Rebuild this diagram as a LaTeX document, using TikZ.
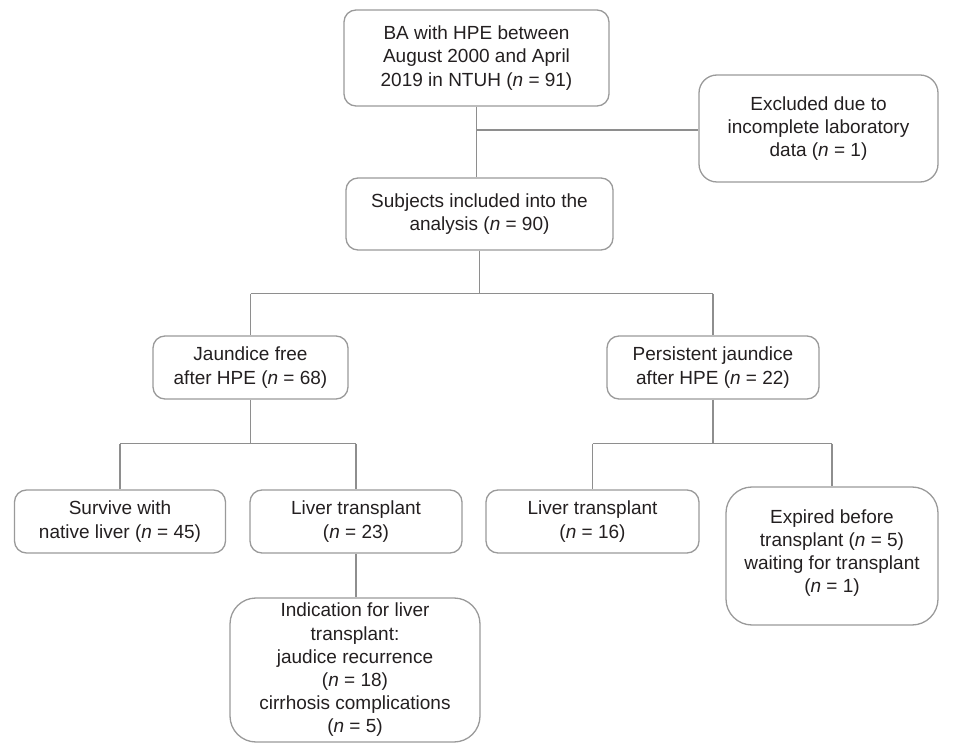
\documentclass[tikz,border=0pt]{standalone}
\usepackage{fontspec}
\setmainfont{Liberation Sans}
\definecolor{linegray}{HTML}{8E8E8E}
\definecolor{boxgray}{HTML}{9A9A9A}
\definecolor{txt}{HTML}{231F20}
\begin{document}
\begin{tikzpicture}[x=1pt,y=-1pt,
  txtstyle/.style={inner sep=0pt, align=center, text=txt, font=\fontsize{19}{23.2}\selectfont},
  box/.style={txtstyle, draw=boxgray, line width=1.3pt, rounded corners=12pt},
  bigbox/.style={box, rounded corners=26pt},
  conn/.style={draw=linegray, line width=1.3pt}]
\useasboundingbox (0,0) rectangle (962,743);

\node[box, minimum width=265pt, minimum height=96pt] (top) at (476.5,58)
  {BA with HPE between\\August 2000 and April\\2019 in NTUH (\textit{n} = 91)};
\node[box, rounded corners=18pt, minimum width=239pt, minimum height=107pt] (excl) at (818.5,128.5)
  {Excluded due to\\incomplete laboratory\\data (\textit{n} = 1)};
\node[box, minimum width=267pt, minimum height=72pt] (subj) at (479.5,214)
  {Subjects included into the\\analysis (\textit{n} = 90)};
\node[box, minimum width=195pt, minimum height=63pt] (jf) at (250.5,367.5)
  {Jaundice free\\after HPE (\textit{n} = 68)};
\node[box, minimum width=212pt, minimum height=63pt] (pj) at (713,367.5)
  {Persistent jaundice\\after HPE (\textit{n} = 22)};
\node[box, minimum width=211pt, minimum height=63pt] (surv) at (120,521.5)
  {Survive with\\native liver (\textit{n} = 45)};
\node[box, minimum width=212pt, minimum height=63pt] (lt23) at (356,521.5)
  {Liver transplant\\(\textit{n} = 23)};
\node[box, minimum width=213pt, minimum height=63pt] (lt16) at (592.5,521.5)
  {Liver transplant\\(\textit{n} = 16)};
\node[bigbox, minimum width=212pt, minimum height=138pt] (exp) at (832,556) {};
\node[txtstyle] (expt) at (832,553)
  {Expired before\\transplant (\textit{n} = 5)\\waiting for transplant\\(\textit{n} = 1)};
\node[bigbox, minimum width=250pt, minimum height=144pt] (ind) at (355,670)
  {Indication for liver\\transplant:\\jaudice recurrence\\(\textit{n} = 18)\\cirrhosis complications\\(\textit{n} = 5)};

% top -> subjects, with exclusion branch
\draw[conn] (top.south) -- (top.south |- subj.north);
\draw[conn] (top.south |- 0,130) coordinate (e1) -- (excl.west |- e1);

% subjects -> two groups
\draw[conn] (subj.south) -- ++(0,43) coordinate (s1);
\draw[conn] (jf.north |- s1) -- (pj.north |- s1);
\draw[conn] (jf.north |- s1) -- (jf.north);
\draw[conn] (pj.north |- s1) -- (pj.north);

% jaundice free -> outcomes
\draw[conn] (jf.south) -- ++(0,44) coordinate (j2);
\draw[conn] (surv.north |- j2) -- (lt23.north |- j2);
\draw[conn] (surv.north |- j2) -- (surv.north);
\draw[conn] (lt23.north |- j2) -- (lt23.north);

% persistent jaundice -> outcomes
\draw[conn] (pj.south) -- ++(0,44) coordinate (p2);
\draw[conn] (lt16.north |- p2) -- (exp.north |- p2);
\draw[conn] (lt16.north |- p2) -- (lt16.north);
\draw[conn] (exp.north |- p2) -- (exp.north);

% liver transplant -> indication
\draw[conn] (lt23.south) -- (lt23.south |- ind.north);
\end{tikzpicture}
\end{document}
